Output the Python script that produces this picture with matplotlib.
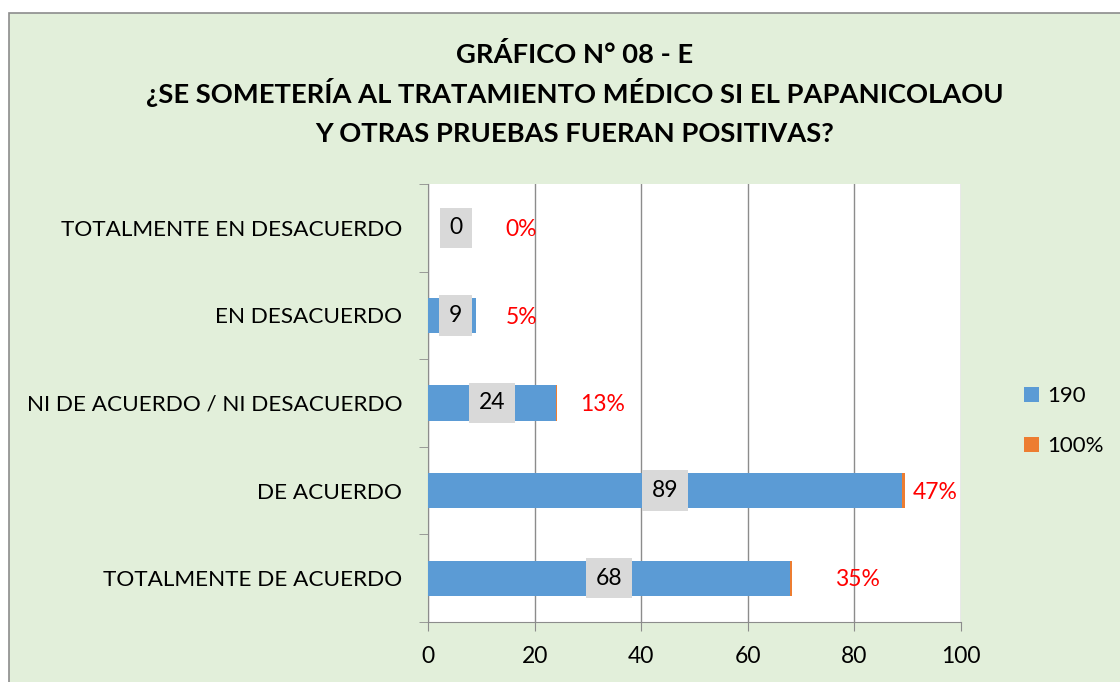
import matplotlib
matplotlib.use("Agg")
import matplotlib.pyplot as plt
from matplotlib.patches import Rectangle
import numpy as np

categories = ["TOTALMENTE DE ACUERDO", "DE ACUERDO", "NI DE ACUERDO / NI DESACUERDO",
              "EN DESACUERDO", "TOTALMENTE EN DESACUERDO"]
counts = [68, 89, 24, 9, 0]
percents = [0.35, 0.47, 0.13, 0.05, 0.00]
series_names = ["190", "100%"]
xticks = [0, 20, 40, 60, 80, 100]
title_lines = ["GRÁFICO N° 08 - E",
               "¿SE SOMETERÍA AL TRATAMIENTO MÉDICO SI EL PAPANICOLAOU",
               "Y OTRAS PRUEBAS FUERAN POSITIVAS?"]

# layout-only: x positions of the percentage labels (as rendered in reference)
pct_label_x = [80.5, 95.1, 32.8, 17.6, 17.4]
count_label_x_min = 5.2

plt.rcParams['font.family'] = ['Lato', 'DejaVu Sans']

W, H = 1120, 682
fig = plt.figure(figsize=(11.2, 6.82), dpi=100)
fig.patch.set_facecolor("white")
frame = Rectangle((9/W, -0.05), 1.2, 1 - 13/H + 0.05, transform=fig.transFigure,
                  facecolor="#E2EFDA", edgecolor="#8C8C8C", linewidth=1.2, zorder=-10)
fig.patches.append(frame)

ax = fig.add_axes([428/W, 1 - 622/H, (961 - 428)/W, (622 - 184)/H])
ax.set_facecolor("white")

y = np.arange(len(categories))
blue = "#5B9BD5"
orange = "#ED7D31"
ax.barh(y, counts, height=0.4, color=blue, label=series_names[0], zorder=3)
ax.barh(y, percents, left=counts, height=0.4, color=orange, label=series_names[1], zorder=3)

for i, (c, p) in enumerate(zip(counts, percents)):
    xc = max(c / 2, count_label_x_min)
    ax.text(xc, y[i], f"{c}", ha="center", va="center", fontsize=16.5, color="black", zorder=5,
            bbox=dict(boxstyle="square,pad=0.42", facecolor="#D9D9D9", edgecolor="none"))
    ax.text(pct_label_x[i], y[i] - 0.02, f"{int(round(p*100))}%", ha="center", va="center",
            fontsize=16.5, color="#FF0000", zorder=5)

ax.set_xlim(0, 100)
ax.set_ylim(-0.5, len(categories) - 0.5)
ax.set_xticks(xticks)
ax.set_xticklabels([str(t) for t in xticks], fontsize=16.5)
ax.set_yticks(y)
ax.set_yticklabels(categories, fontsize=16.2)
ax.set_yticks(np.arange(-0.5, len(categories), 1.0), minor=True)
ax.tick_params(axis="y", which="major", length=0, pad=18.5)
ax.tick_params(axis="y", which="minor", length=6.5, color="#8C8C8C")
ax.tick_params(axis="x", which="major", length=6.5, color="#8C8C8C", pad=10.5)
ax.grid(axis="x", color="#8C8C8C", linewidth=1.0, zorder=0)
for s in ["top", "right"]:
    ax.spines[s].set_visible(False)
for s in ["left", "bottom"]:
    ax.spines[s].set_color("#8C8C8C")

for txt, base in zip(title_lines, [63, 103, 142]):
    fig.text(575/W, 1 - base/H, txt, ha="center", va="baseline", fontsize=19.7,
             fontweight="bold")

handles, labels = ax.get_legend_handles_labels()
leg = fig.legend(handles, labels, loc="center left", bbox_to_anchor=(1024/W, 1 - 421/H),
                 frameon=False, fontsize=16, handlelength=0.68, handleheight=0.68,
                 handletextpad=0.36, labelspacing=1.35, borderpad=0, borderaxespad=0)

fig.savefig("out.png", dpi=100)
